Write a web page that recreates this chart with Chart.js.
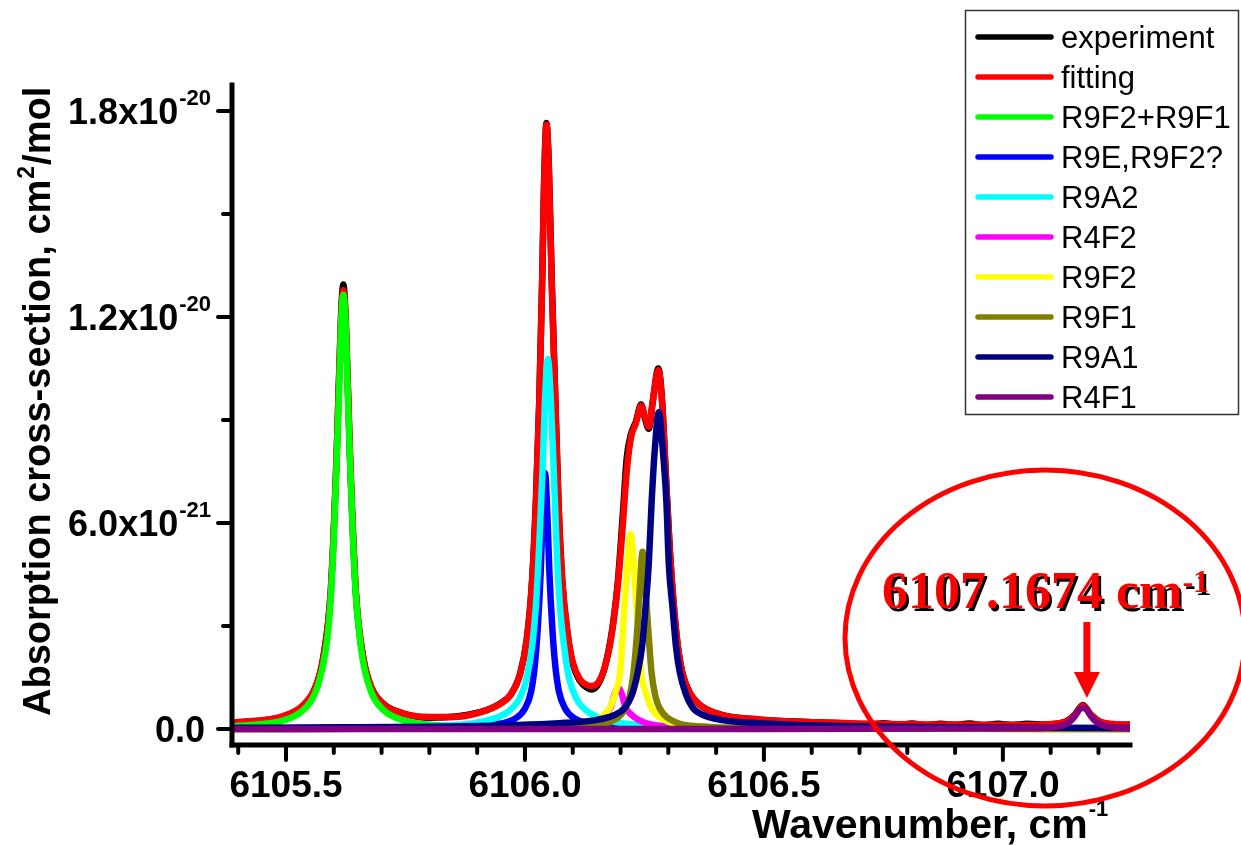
<!DOCTYPE html>
<html>
<head>
<meta charset="utf-8">
<title>Absorption cross-section near 6106 cm-1</title>
<script src="https://cdn.jsdelivr.net/npm/chart.js@4/dist/chart.umd.min.js"></script>
<style>
  html, body { margin: 0; padding: 0; background: #fff; }
  #c { display: block; }
</style>
</head>
<body>
<canvas id="c" width="1241" height="845"></canvas>
<script>
// Cross-sections are given in units of 1e-21 cm^2/mol; wavenumbers in cm^-1.
// Each series is a list of [wavenumber, cross-section] pairs.

const experiment = [
  [6105.387, 0.18], [6105.45, 0.25], [6105.495, 0.37], [6105.536, 0.68], [6105.561, 1.2],
  [6105.578, 2.1], [6105.594, 4.1], [6105.606, 8.0], [6105.615, 12.0], [6105.620, 12.95],
  [6105.625, 11.9], [6105.634, 7.9], [6105.646, 4.0], [6105.662, 2.05], [6105.679, 1.2],
  [6105.704, 0.73], [6105.746, 0.45], [6105.80, 0.33], [6105.86, 0.37], [6105.92, 0.55],
  [6105.95, 0.76], [6105.97, 1.0], [6105.99, 1.62], [6106.004, 2.65], [6106.015, 4.35],
  [6106.023, 6.7], [6106.030, 9.6], [6106.036, 13.1], [6106.040, 15.9], [6106.045, 17.65],
  [6106.050, 16.4], [6106.056, 13.1], [6106.063, 9.9], [6106.070, 6.7], [6106.078, 4.35],
  [6106.090, 2.7], [6106.100, 1.9], [6106.115, 1.4], [6106.130, 1.2], [6106.140, 1.15],
  [6106.153, 1.3], [6106.167, 1.8], [6106.182, 2.85], [6106.195, 4.4], [6106.205, 6.3],
  [6106.213, 7.9], [6106.222, 8.6], [6106.232, 8.95], [6106.243, 9.45], [6106.251, 9.05],
  [6106.259, 8.75], [6106.268, 9.6], [6106.279, 10.5], [6106.287, 9.55], [6106.295, 7.35],
  [6106.303, 5.25], [6106.312, 3.5], [6106.320, 2.4], [6106.330, 1.6], [6106.345, 1.05],
  [6106.366, 0.7], [6106.408, 0.43], [6106.49, 0.27], [6106.60, 0.2], [6106.68, 0.16],
  [6106.72, 0.13], [6106.75, 0.17], [6106.78, 0.12], [6106.81, 0.16], [6106.84, 0.11],
  [6106.87, 0.15], [6106.90, 0.12], [6106.93, 0.16], [6106.96, 0.11], [6106.99, 0.15],
  [6107.02, 0.12], [6107.05, 0.15], [6107.09, 0.13], [6107.13, 0.21], [6107.151, 0.43],
  [6107.1674, 0.7], [6107.184, 0.41], [6107.205, 0.2], [6107.23, 0.12], [6107.266, 0.13]
];

const fitting = [
  [6105.387, 0.18], [6105.495, 0.38], [6105.536, 0.7], [6105.561, 1.2], [6105.578, 2.05],
  [6105.594, 4.05], [6105.606, 7.95], [6105.615, 11.85], [6105.620, 12.78], [6105.625, 11.85],
  [6105.634, 7.95], [6105.646, 4.05], [6105.662, 2.05], [6105.679, 1.2], [6105.704, 0.72],
  [6105.746, 0.45], [6105.80, 0.35], [6105.86, 0.36], [6105.92, 0.55], [6105.95, 0.75],
  [6105.97, 1.0], [6105.99, 1.6], [6106.004, 2.6], [6106.015, 4.3], [6106.023, 6.6],
  [6106.030, 9.5], [6106.036, 13.0], [6106.040, 15.8], [6106.045, 17.6], [6106.050, 16.3],
  [6106.056, 13.0], [6106.063, 9.8], [6106.070, 6.6], [6106.078, 4.3], [6106.090, 2.7],
  [6106.100, 1.95], [6106.115, 1.45], [6106.130, 1.28], [6106.140, 1.25], [6106.153, 1.35],
  [6106.167, 1.8], [6106.182, 2.8], [6106.195, 4.3], [6106.205, 6.0], [6106.213, 7.5],
  [6106.222, 8.5], [6106.232, 8.9], [6106.243, 9.42], [6106.251, 9.1], [6106.259, 8.8],
  [6106.268, 9.6], [6106.279, 10.45], [6106.287, 9.5], [6106.295, 7.3], [6106.303, 5.2],
  [6106.312, 3.5], [6106.320, 2.4], [6106.330, 1.6], [6106.345, 1.05], [6106.366, 0.7],
  [6106.408, 0.42], [6106.49, 0.28], [6106.68, 0.17], [6106.89, 0.13], [6107.05, 0.12],
  [6107.13, 0.2], [6107.151, 0.42], [6107.1674, 0.68], [6107.184, 0.42], [6107.205, 0.2],
  [6107.266, 0.12]
];

const r9f2r9f1 = [
  [6105.387, 0.08], [6105.411, 0.1], [6105.495, 0.25], [6105.536, 0.55], [6105.561, 1.05],
  [6105.578, 1.9], [6105.587, 2.7], [6105.594, 3.9], [6105.600, 5.6], [6105.606, 7.8],
  [6105.611, 9.8], [6105.615, 11.7], [6105.620, 12.65], [6105.625, 11.7], [6105.629, 9.8],
  [6105.634, 7.8], [6105.640, 5.6], [6105.646, 3.9], [6105.654, 2.7], [6105.662, 1.9],
  [6105.679, 1.05], [6105.704, 0.55], [6105.746, 0.25], [6105.829, 0.1], [6106.038, 0.04],
  [6106.5, 0.02], [6107.266, 0.01]
];

const r9e = [
  [6105.387, 0.01], [6105.833, 0.05], [6105.937, 0.13], [6105.979, 0.3], [6106.000, 0.6],
  [6106.013, 1.1], [6106.021, 1.9], [6106.027, 3.0], [6106.033, 4.6], [6106.037, 6.2],
  [6106.042, 7.46], [6106.047, 6.2], [6106.051, 4.6], [6106.057, 3.0], [6106.063, 1.9],
  [6106.071, 1.1], [6106.084, 0.6], [6106.105, 0.3], [6106.147, 0.13], [6106.251, 0.05],
  [6107.266, 0.01]
];

const r9a2 = [
  [6105.387, 0.02], [6105.630, 0.04], [6105.839, 0.1], [6105.922, 0.25], [6105.964, 0.5],
  [6105.989, 0.9], [6106.004, 1.5], [6106.015, 2.4], [6106.023, 3.6], [6106.030, 5.4],
  [6106.037, 7.6], [6106.042, 9.6], [6106.048, 10.78], [6106.054, 9.6], [6106.060, 7.6],
  [6106.066, 5.4], [6106.073, 3.6], [6106.082, 2.4], [6106.092, 1.5], [6106.107, 0.9],
  [6106.132, 0.5], [6106.174, 0.25], [6106.257, 0.1], [6106.466, 0.04], [6107.266, 0.01]
];

const r4f2 = [
  [6105.387, 0.0], [6105.9, 0.02], [6106.049, 0.05], [6106.122, 0.12], [6106.153, 0.27],
  [6106.170, 0.45], [6106.180, 0.65], [6106.187, 1.0], [6106.195, 1.2], [6106.203, 1.0],
  [6106.210, 0.65], [6106.220, 0.45], [6106.237, 0.27], [6106.268, 0.12], [6106.341, 0.05],
  [6106.6, 0.02], [6107.266, 0.0]
];

const r9f2 = [
  [6105.387, 0.0], [6105.970, 0.03], [6106.096, 0.09], [6106.148, 0.25], [6106.177, 0.6],
  [6106.190, 1.1], [6106.199, 1.65], [6106.208, 3.5], [6106.215, 4.9], [6106.221, 5.68],
  [6106.227, 4.9], [6106.234, 3.5], [6106.243, 1.65], [6106.252, 1.1], [6106.265, 0.6],
  [6106.294, 0.25], [6106.347, 0.09], [6106.472, 0.03], [6107.266, 0.0]
];

const r9f1 = [
  [6105.387, 0.0], [6105.995, 0.02], [6106.121, 0.07], [6106.177, 0.2], [6106.210, 0.6],
  [6106.219, 0.95], [6106.227, 1.63], [6106.236, 3.09], [6106.241, 4.3], [6106.246, 5.16],
  [6106.251, 4.3], [6106.257, 3.09], [6106.265, 1.63], [6106.273, 0.95], [6106.282, 0.6],
  [6106.315, 0.2], [6106.372, 0.07], [6106.497, 0.02], [6107.266, 0.0]
];

const r9a1 = [
  [6105.387, 0.03], [6105.443, 0.04], [6105.862, 0.08], [6106.071, 0.17], [6106.148, 0.26],
  [6106.186, 0.4], [6106.209, 0.62], [6106.224, 1.0], [6106.236, 1.65], [6106.245, 2.4],
  [6106.252, 3.5], [6106.259, 4.8], [6106.265, 6.6], [6106.272, 8.2], [6106.280, 9.23],
  [6106.288, 8.2], [6106.296, 6.6], [6106.301, 4.8], [6106.309, 3.5], [6106.316, 2.4],
  [6106.324, 1.65], [6106.337, 1.0], [6106.351, 0.62], [6106.374, 0.4], [6106.412, 0.26],
  [6106.489, 0.17], [6106.699, 0.08], [6107.117, 0.04], [6107.266, 0.03]
];

const r4f1 = [
  [6105.387, 0.0], [6106.5, 0.0], [6107.042, 0.02], [6107.105, 0.05], [6107.130, 0.13],
  [6107.142, 0.24], [6107.151, 0.38], [6107.159, 0.55], [6107.1674, 0.62], [6107.176, 0.55],
  [6107.184, 0.38], [6107.193, 0.24], [6107.205, 0.13], [6107.230, 0.05], [6107.266, 0.02]
];

const seriesNames  = ['experiment', 'fitting', 'R9F2+R9F1', 'R9E,R9F2?', 'R9A2', 'R4F2', 'R9F2', 'R9F1', 'R9A1', 'R4F1'];
const seriesData   = [experiment, fitting, r9f2r9f1, r9e, r9a2, r4f2, r9f2, r9f1, r9a1, r4f1];
const seriesColors = ['#000000', '#ff0000', '#00ff00', '#0000ff', '#00ffff', '#ff00ff', '#ffff00', '#808000', '#000080', '#800080'];

// Axis ticks
const xMajorTicks = [6105.5, 6106.0, 6106.5, 6107.0];
const xMinorTicks = [6105.4, 6105.6, 6105.7, 6105.8, 6105.9, 6106.1, 6106.2, 6106.3, 6106.4,
                     6106.6, 6106.7, 6106.8, 6106.9, 6107.1, 6107.2];
const yMajorTicks = [0, 6, 12, 18];            // x 1e-21
const yTickMantissa = ['0.0', '6.0', '1.2', '1.8'];
const yTickExponent = ['', '-21', '-20', '-20'];
const yMinorTicks = [3, 9, 15];

// Marked line position
const markedLine = 6107.1674;

const SANS = '"Liberation Sans", Arial, sans-serif';
const SERIF = '"Liberation Serif", "Times New Roman", serif';

const datasets = seriesData.map((pts, i) => ({
  label: seriesNames[i],
  data: pts.map(p => ({ x: p[0], y: p[1] })),
  borderColor: seriesColors[i],
  backgroundColor: seriesColors[i],
  borderWidth: 6.5,
  pointRadius: 0,
  fill: false,
  cubicInterpolationMode: 'monotone',
  borderCapStyle: 'round',
  borderJoinStyle: 'round',
  order: seriesNames.length - i   // later series are drawn on top
}));

function line(ctx, x1, y1, x2, y2) {
  ctx.beginPath(); ctx.moveTo(x1, y1); ctx.lineTo(x2, y2); ctx.stroke();
}

// Axes, ticks, tick labels and titles
const axesPlugin = {
  id: 'axesPlugin',
  afterDatasetsDraw(chart) {
    const { ctx, chartArea: a, scales: { x, y } } = chart;
    ctx.save();
    ctx.strokeStyle = '#000';
    ctx.fillStyle = '#000';

    // ticks
    ctx.lineWidth = 4;
    ctx.lineCap = 'round';
    yMajorTicks.forEach(v => { const py = y.getPixelForValue(v); line(ctx, a.left - 14, py, a.left, py); });
    yMinorTicks.forEach(v => { const py = y.getPixelForValue(v); line(ctx, a.left - 9, py, a.left, py); });
    xMajorTicks.forEach(v => { const px = x.getPixelForValue(v); line(ctx, px, a.bottom, px, a.bottom + 15); });
    xMinorTicks.forEach(v => { const px = x.getPixelForValue(v); line(ctx, px, a.bottom, px, a.bottom + 8); });

    // axis lines
    ctx.lineWidth = 5;
    ctx.lineCap = 'square';
    line(ctx, a.left, a.top, a.left, a.bottom);
    line(ctx, a.left, a.bottom, a.right, a.bottom);

    // x tick labels
    ctx.font = 'bold 37px ' + SANS;
    ctx.textAlign = 'center';
    ctx.textBaseline = 'alphabetic';
    xMajorTicks.forEach(v => ctx.fillText(v.toFixed(1), x.getPixelForValue(v), a.bottom + 52));

    // y tick labels with exponent
    yMajorTicks.forEach((v, i) => {
      const py = y.getPixelForValue(v);
      const base = py + 13;
      ctx.textAlign = 'left';
      if (yTickExponent[i]) {
        const main = yTickMantissa[i] + 'x10';
        ctx.font = 'bold 36px ' + SANS;
        const wMain = ctx.measureText(main).width;
        ctx.font = 'bold 22px ' + SANS;
        const wSup = ctx.measureText(yTickExponent[i]).width;
        const x0 = a.left - 22 - wMain - wSup;
        ctx.font = 'bold 36px ' + SANS;
        ctx.fillText(main, x0, base);
        ctx.font = 'bold 22px ' + SANS;
        ctx.fillText(yTickExponent[i], x0 + wMain + 1, base - 19);
      } else {
        ctx.font = 'bold 36px ' + SANS;
        ctx.textAlign = 'right';
        ctx.fillText(yTickMantissa[i], a.left - 27, base);
      }
    });

    // x title
    ctx.textAlign = 'left';
    ctx.font = 'bold 41px ' + SANS;
    const xt = 'Wavenumber, cm';
    const xtW = ctx.measureText(xt).width;
    const xtX = 752;
    ctx.fillText(xt, xtX, 838);
    ctx.font = 'bold 22px ' + SANS;
    ctx.fillText('-1', xtX + xtW + 1, 816);

    // y title (rotated)
    ctx.save();
    ctx.translate(50, 716);
    ctx.rotate(-Math.PI / 2);
    ctx.font = 'bold 38px ' + SANS;
    const p1 = 'Absorption cross-section, cm';
    ctx.fillText(p1, 0, 0);
    let u = ctx.measureText(p1).width;
    ctx.font = 'bold 23px ' + SANS;
    ctx.fillText('2', u + 1, -16);
    u += ctx.measureText('2').width + 2;
    ctx.font = 'bold 38px ' + SANS;
    ctx.fillText('/mol', u, 0);
    ctx.restore();

    ctx.restore();
  }
};

// Legend box in the upper right corner
const legendPlugin = {
  id: 'legendBox',
  afterDraw(chart) {
    const ctx = chart.ctx;
    ctx.save();
    ctx.fillStyle = '#fff';
    ctx.fillRect(965, 10, 274, 405);
    ctx.strokeStyle = '#333';
    ctx.lineWidth = 1.5;
    ctx.strokeRect(965.5, 10.5, 273, 404);
    chart.data.datasets.forEach((ds, i) => {
      const yy = 37 + 40 * i;
      ctx.strokeStyle = ds.borderColor;
      ctx.lineWidth = 5.5;
      ctx.lineCap = 'round';
      line(ctx, 978, yy, 1051, yy);
      ctx.fillStyle = '#000';
      ctx.font = '31px ' + SANS;
      ctx.textAlign = 'left';
      ctx.textBaseline = 'alphabetic';
      ctx.fillText(ds.label, 1061, yy + 11);
    });
    ctx.restore();
  }
};

// Circled line position with arrow and label
const notePlugin = {
  id: 'lineNote',
  afterDraw(chart) {
    const { ctx, scales: { x } } = chart;
    ctx.save();
    // ellipse
    ctx.strokeStyle = '#ff0000';
    ctx.lineWidth = 5;
    ctx.beginPath();
    ctx.ellipse(1045, 638, 200, 168, 0, 0, Math.PI * 2);
    ctx.stroke();

    // label with shadow
    const label = markedLine.toFixed(4) + ' cm';
    ctx.textAlign = 'left';
    ctx.textBaseline = 'alphabetic';
    ctx.font = 'bold 52px ' + SERIF;
    const lw = ctx.measureText(label).width;
    const lx = 882, ly = 608;
    ctx.fillStyle = '#000';
    ctx.fillText(label, lx + 2.5, ly + 2.5);
    ctx.font = 'bold 32px ' + SERIF;
    ctx.fillText('-1', lx + lw + 2.5, ly - 16 + 2.5);
    ctx.fillStyle = '#ff0000';
    ctx.font = 'bold 52px ' + SERIF;
    ctx.fillText(label, lx, ly);
    ctx.font = 'bold 32px ' + SERIF;
    ctx.fillText('-1', lx + lw, ly - 16);

    // arrow pointing at the line
    const ax = x.getPixelForValue(markedLine) + 4;
    ctx.strokeStyle = '#ff0000';
    ctx.lineWidth = 7;
    ctx.lineCap = 'butt';
    line(ctx, ax, 622, ax, 676);
    ctx.fillStyle = '#ff0000';
    ctx.beginPath();
    ctx.moveTo(ax - 13, 672);
    ctx.lineTo(ax + 13, 672);
    ctx.lineTo(ax, 698);
    ctx.closePath();
    ctx.fill();
    ctx.restore();
  }
};

new Chart(document.getElementById('c').getContext('2d'), {
  type: 'line',
  data: { datasets },
  options: {
    responsive: false,
    animation: false,
    devicePixelRatio: 1,
    layout: { padding: { left: 232, right: 111, top: 85, bottom: 100 } },
    plugins: { legend: { display: false }, tooltip: { enabled: false } },
    scales: {
      x: { type: 'linear', min: 6105.387, max: 6107.266, display: false },
      y: { type: 'linear', min: -0.466, max: 18.76, display: false }
    }
  },
  plugins: [axesPlugin, legendPlugin, notePlugin]
});
</script>
</body>
</html>
